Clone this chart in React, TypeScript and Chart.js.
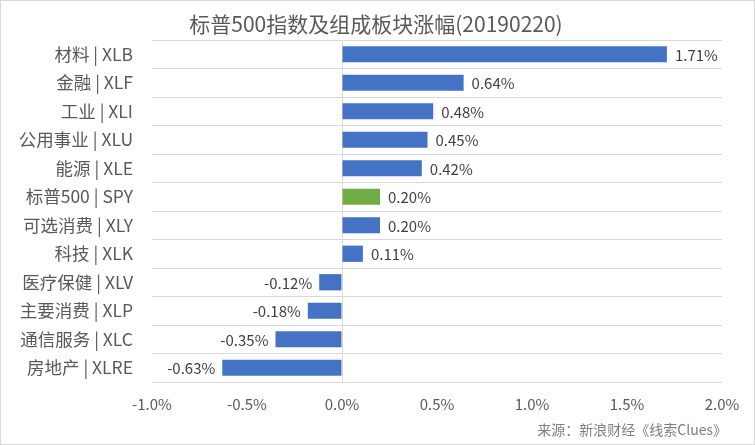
import React, { useEffect, useRef } from "react";
import { Chart, registerables } from "chart.js";

Chart.register(...registerables);

const categories = [
  "材料 | XLB",
  "金融 | XLF",
  "工业 | XLI",
  "公用事业 | XLU",
  "能源 | XLE",
  "标普500 | SPY",
  "可选消费 | XLY",
  "科技 | XLK",
  "医疗保健 | XLV",
  "主要消费 | XLP",
  "通信服务 | XLC",
  "房地产 | XLRE",
];
const changes = [1.71, 0.64, 0.48, 0.45, 0.42, 0.2, 0.2, 0.11, -0.12, -0.18, -0.35, -0.63];
const highlight = "标普500 | SPY";
const xTicks = [-1.0, -0.5, 0.0, 0.5, 1.0, 1.5, 2.0];
const titleText = "标普500指数及组成板块涨幅(20190220)";
const sourceText = "来源：新浪财经《线索Clues》";

const FONT = '"Noto Sans CJK SC", "Noto Sans", sans-serif';

const decorPlugin = {
  id: "decor",
  beforeDraw(chart: any) {
    const ctx = chart.ctx;
    ctx.save();
    ctx.fillStyle = "#ffffff";
    ctx.fillRect(0, 0, chart.width, chart.height);
    ctx.font = `21px ${FONT}`;
    ctx.fillStyle = "#595959";
    ctx.textAlign = "center";
    ctx.textBaseline = "middle";
    ctx.fillText(titleText, 376, 24);
    ctx.restore();
  },
  afterDatasetsDraw(chart: any) {
    const ctx = chart.ctx;
    const meta = chart.getDatasetMeta(0);
    const data = chart.data.datasets[0].data as number[];
    ctx.save();
    ctx.font = `15px ${FONT}`;
    ctx.fillStyle = "#404040";
    ctx.textBaseline = "middle";
    meta.data.forEach((el: any, i: number) => {
      const v = data[i];
      const txt = v.toFixed(2) + "%";
      if (v >= 0) {
        ctx.textAlign = "left";
        ctx.fillText(txt, el.x + 8, el.y + 1);
      } else {
        ctx.textAlign = "right";
        ctx.fillText(txt, el.x - 7, el.y + 1);
      }
    });
    ctx.restore();
  },
  afterDraw(chart: any) {
    const ctx = chart.ctx;
    ctx.save();
    ctx.font = `14px ${FONT}`;
    ctx.fillStyle = "#808080";
    ctx.textAlign = "right";
    ctx.textBaseline = "middle";
    ctx.fillText(sourceText, 727, 430);
    ctx.strokeStyle = "#d9d9d9";
    ctx.lineWidth = 1;
    ctx.strokeRect(0.5, 0.5, chart.width - 1, chart.height - 1);
    ctx.restore();
  },
};

export default function App() {
  const ref = useRef<HTMLCanvasElement | null>(null);
  useEffect(() => {
    if (!ref.current) return;
    const chart = new Chart(ref.current, {
      type: "bar",
      data: {
        labels: categories,
        datasets: [
          {
            data: changes,
            backgroundColor: categories.map((c) => (c === highlight ? "#70AD47" : "#4472C4")),
            barPercentage: 1,
            categoryPercentage: 0.57,
            borderWidth: 0,
          },
        ],
      },
      options: {
        indexAxis: "y",
        responsive: false,
        animation: false,
        devicePixelRatio: 1,
        layout: { padding: { left: 0, right: 33, top: 40, bottom: 0 } },
        plugins: {
          legend: { display: false },
          tooltip: { enabled: false },
          title: { display: false },
        },
        scales: {
          x: {
            type: "linear",
            min: -1,
            max: 2,
            afterFit: (s: any) => {
              s.height = 63;
            },
            afterBuildTicks: (s: any) => {
              s.ticks = xTicks.map((v) => ({ value: v }));
            },
            ticks: {
              color: "#595959",
              font: { family: FONT, size: 15 },
              padding: 13,
              callback: (v: any) => Number(v).toFixed(1) + "%",
            },
            grid: {
              drawTicks: false,
              color: (c: any) => (c.tick && c.tick.value === 0 ? "#d9d9d9" : "rgba(0,0,0,0)"),
            },
            border: { display: false },
          },
          y: {
            afterFit: (s: any) => {
              s.width = 152;
            },
            ticks: {
              color: "#595959",
              font: { family: FONT, size: 17.5 },
              padding: 19,
            },
            grid: {
              drawTicks: false,
              color: "#d9d9d9",
            },
            border: { display: false },
          },
        },
      },
      plugins: [decorPlugin],
    });
    return () => chart.destroy();
  }, []);
  return (
    <div style={{ position: "absolute", left: 0, top: 0, width: 755, height: 445 }}>
      <canvas ref={ref} width={755} height={445} style={{ width: 755, height: 445, display: "block" }} />
    </div>
  );
}
